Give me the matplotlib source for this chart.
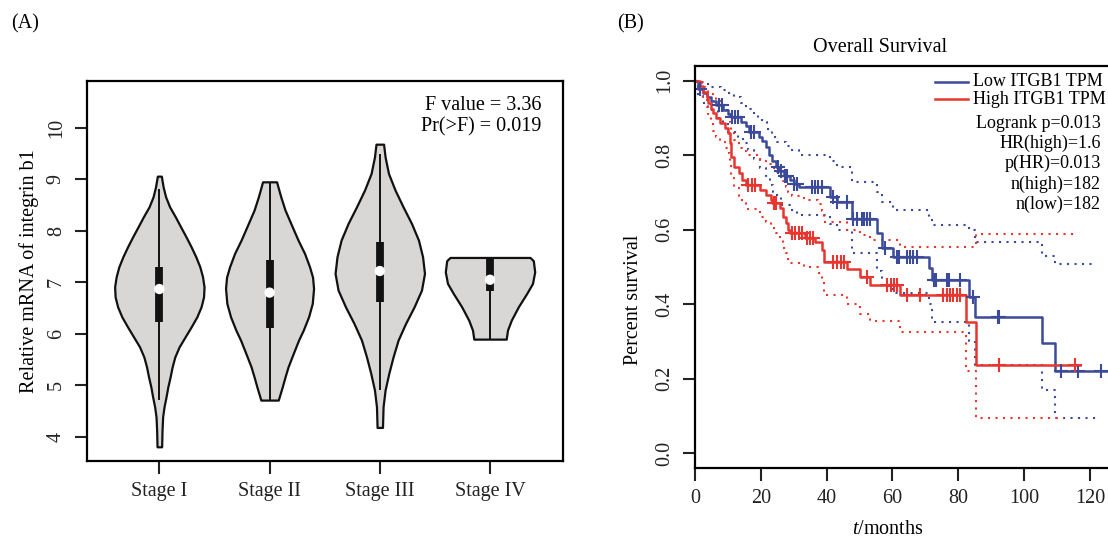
import numpy as np
import matplotlib
matplotlib.use("Agg")
import matplotlib.pyplot as plt

plt.rcParams['font.family'] = ['Liberation Serif', 'DejaVu Serif']
plt.rcParams['mathtext.fontset'] = 'custom'
plt.rcParams['mathtext.it'] = 'Liberation Serif:italic'
plt.rcParams['mathtext.rm'] = 'Liberation Serif'

# ---------------- Panel A data ----------------
stages = ["Stage I", "Stage II", "Stage III", "Stage IV"]
# violin outlines: (value, half-width in px)
v1_y = [3.806, 4.130, 4.388, 4.583, 4.777, 4.971, 5.165, 5.359, 5.553, 5.748, 5.942, 6.136, 6.330, 6.524, 6.718, 6.913, 7.107, 7.301, 7.495, 7.689, 7.883, 8.078, 8.272, 8.466, 8.660, 8.854, 9.062]
v1_w = [2.3, 2.7, 3.3, 4.7, 6.7, 8.5, 10.8, 12.8, 15.5, 19.8, 25.8, 31.8, 37.5, 41.7, 44.2, 44.7, 43.2, 40.5, 36.5, 31.8, 26.7, 21.3, 16.0, 10.3, 6.3, 3.8, 2.0]
v2_y = [4.713, 4.971, 5.165, 5.359, 5.619, 5.878, 6.072, 6.330, 6.590, 6.881, 7.100, 7.301, 7.561, 7.819, 8.110, 8.402, 8.661, 8.952]
v2_w = [8.7, 12.7, 15.5, 18.5, 23.7, 29.0, 33.7, 39.0, 42.7, 44.0, 43.0, 40.0, 35.0, 28.5, 22.0, 15.5, 11.2, 7.0]
v3_y = [4.182, 4.583, 4.907, 5.231, 5.553, 5.878, 6.202, 6.524, 6.849, 7.173, 7.495, 7.819, 8.144, 8.466, 8.790, 9.114, 9.437, 9.683]
v3_w = [2.7, 3.3, 5.3, 9.0, 13.3, 18.3, 25.8, 34.3, 41.7, 44.7, 42.8, 38.7, 31.7, 23.3, 15.3, 8.7, 5.3, 3.8]
v4_y = [5.897, 6.072, 6.266, 6.524, 6.784, 6.979, 7.204, 7.420, 7.483]
v4_w = [16.2, 17.5, 21.3, 28.3, 36.7, 42.5, 44.7, 43.3, 40.0]
box_lo = [6.23, 6.12, 6.61, 6.83]
box_hi = [7.30, 7.43, 7.79, 7.47]
whisk_lo = [4.71, 4.71, 4.91, 5.90]
whisk_hi = [8.82, 8.95, 9.50, 7.47]
medians = [6.87, 6.80, 7.22, 7.05]
yticks_a = [4, 5, 6, 7, 8, 9, 10]

# ---------------- Panel B data ----------------
low_t = [0, 1.0, 2.5, 3.5, 5.0, 6.5, 8.5, 10.0, 11.0, 14.0, 15.5, 16.5, 19.3, 20.3, 21.5, 22.5, 23.5, 24.5, 25.5, 27.0, 29.0, 30.0, 31.5, 41.0, 43.0, 47.6, 55.2, 56.7, 60.3, 71.2, 72.0, 83.3, 85.1, 105.4, 109.4]
low_s = [1.0, 0.978, 0.966, 0.955, 0.945, 0.934, 0.922, 0.911, 0.903, 0.890, 0.877, 0.863, 0.850, 0.838, 0.822, 0.800, 0.783, 0.768, 0.757, 0.745, 0.733, 0.722, 0.715, 0.689, 0.675, 0.628, 0.590, 0.550, 0.528, 0.496, 0.465, 0.420, 0.367, 0.295, 0.221]
low_end = 127
low_cens = [1.5, 7.2, 8.1, 11.2, 12.2, 13.2, 16.9, 18.0, 25.1, 26.1, 27.3, 28.0, 30.2, 31.0, 35.5, 36.5, 37.5, 38.5, 42.0, 43.0, 46.1, 48.1, 49.1, 50.6, 51.4, 52.4, 53.2, 57.6, 61.3, 62.1, 64.3, 65.3, 66.3, 67.4, 72.5, 73.3, 76.5, 77.3, 80.5, 84.4, 91.9, 92.5, 111.1, 116.3, 123.4]
low_up_t = [0, 2.0, 5.0, 8.0, 10.0, 12.0, 14.0, 15.5, 17.0, 19.0, 20.5, 22.0, 23.5, 25.0, 27.5, 29.0, 31.5, 41.0, 43.0, 47.6, 55.2, 56.7, 60.3, 71.2, 72.0, 83.3, 85.1, 105.4, 109.4]
low_up_s = [1.0, 0.990, 0.984, 0.975, 0.966, 0.955, 0.940, 0.925, 0.912, 0.900, 0.890, 0.870, 0.850, 0.836, 0.825, 0.814, 0.800, 0.785, 0.769, 0.729, 0.702, 0.675, 0.653, 0.630, 0.613, 0.600, 0.566, 0.530, 0.508]
low_up_end = 122
low_lo_t = [0, 1.0, 2.5, 4.0, 7.0, 8.5, 10.0, 13.0, 14.5, 16.0, 18.0, 19.8, 21.5, 22.8, 23.8, 24.8, 26.0, 29.0, 31.0, 41.0, 43.0, 47.6, 55.2, 56.7, 60.3, 71.2, 72.0, 83.3, 85.1, 105.4, 109.4]
low_lo_s = [1.0, 0.960, 0.940, 0.921, 0.900, 0.885, 0.863, 0.845, 0.832, 0.814, 0.790, 0.765, 0.745, 0.720, 0.700, 0.689, 0.666, 0.653, 0.640, 0.615, 0.600, 0.537, 0.490, 0.450, 0.430, 0.400, 0.353, 0.300, 0.237, 0.170, 0.096]
low_lo_end = 123

high_t = [0, 1.5, 2.5, 3.5, 4.0, 5.0, 5.5, 6.5, 7.5, 9.0, 10.0, 10.5, 11.0, 12.0, 13.5, 14.2, 15.5, 19.8, 21.5, 23.0, 23.5, 25.8, 26.8, 27.5, 28.2, 29.0, 33.5, 36.5, 38.5, 39.2, 46.1, 50.2, 53.2, 62.3, 82.4, 85.4]
high_s = [1.0, 0.985, 0.970, 0.957, 0.940, 0.925, 0.912, 0.900, 0.886, 0.872, 0.859, 0.832, 0.796, 0.769, 0.751, 0.733, 0.720, 0.707, 0.694, 0.680, 0.672, 0.657, 0.635, 0.617, 0.599, 0.590, 0.578, 0.568, 0.546, 0.512, 0.494, 0.474, 0.452, 0.425, 0.353, 0.237]
high_end = 117
high_cens = [16.2, 17.2, 18.3, 23.9, 24.6, 29.4, 30.4, 31.5, 32.5, 34.0, 35.0, 35.9, 42.0, 43.0, 44.5, 45.3, 52.2, 58.3, 59.5, 60.5, 61.3, 64.3, 68.4, 75.4, 76.5, 77.5, 78.5, 79.5, 80.5, 92.5, 115.5]
high_up_t = [0, 1.5, 3.0, 4.0, 5.5, 6.5, 8.0, 9.0, 10.0, 10.5, 11.0, 12.0, 13.5, 14.2, 15.5, 19.8, 21.5, 23.0, 24.5, 25.8, 26.8, 27.5, 28.2, 29.5, 33.0, 37.5, 38.5, 39.2, 46.1, 50.2, 53.2, 62.3, 82.4, 85.4]
high_up_s = [1.0, 0.995, 0.980, 0.965, 0.955, 0.945, 0.930, 0.920, 0.910, 0.890, 0.860, 0.840, 0.820, 0.810, 0.800, 0.785, 0.775, 0.765, 0.755, 0.745, 0.730, 0.715, 0.700, 0.690, 0.680, 0.670, 0.650, 0.620, 0.600, 0.585, 0.572, 0.553, 0.554, 0.588]
high_up_end = 115.5
high_lo_t = [0, 1.5, 2.5, 3.5, 4.0, 5.0, 5.5, 6.5, 7.5, 9.0, 10.0, 10.5, 11.0, 12.0, 13.5, 14.2, 15.5, 19.8, 21.5, 23.0, 24.5, 25.8, 26.8, 27.5, 28.2, 33.0, 37.5, 38.5, 39.2, 46.1, 50.2, 53.2, 62.3, 82.4, 85.4]
high_lo_s = [1.0, 0.970, 0.950, 0.930, 0.910, 0.885, 0.865, 0.850, 0.835, 0.820, 0.805, 0.775, 0.740, 0.711, 0.690, 0.671, 0.655, 0.635, 0.620, 0.605, 0.590, 0.575, 0.552, 0.537, 0.510, 0.500, 0.483, 0.460, 0.425, 0.400, 0.375, 0.356, 0.325, 0.220, 0.096]
high_lo_end = 112
xticks_b = [0, 20, 40, 60, 80, 100, 120]
yticks_b = [0.0, 0.2, 0.4, 0.6, 0.8, 1.0]

W, H = 1108, 539
fig = plt.figure(figsize=(W / 100, H / 100), dpi=100)

def fr(l, t, r, b):
    return [l / W, 1 - b / H, (r - l) / W, (b - t) / H]

FS = 14.5
grey = '#D9D6D6'
blue = '#3B4A9A'
red = '#E8352F'

# ---------------- Panel A ----------------
axA = fig.add_axes(fr(86.7, 81, 563.3, 461))
px_per_unit = 110.2
vp = []
for ys, ws, med in zip([v1_y, v2_y, v3_y, v4_y], [v1_w, v2_w, v3_w, v4_w], medians):
    vp.append(dict(coords=np.array(ys), vals=np.array(ws), mean=med, median=med,
                   min=min(ys), max=max(ys)))
positions = np.arange(1, len(stages) + 1)
widths = [2 * max(w) / px_per_unit for w in [v1_w, v2_w, v3_w, v4_w]]
parts = axA.violin(vp, positions=positions, widths=widths, showmeans=False,
                   showextrema=False, showmedians=False)
for pc in parts['bodies']:
    pc.set_facecolor(grey)
    pc.set_edgecolor('#111111')
    pc.set_linewidth(1.6)
    pc.set_alpha(1)
    pc.set_joinstyle('round')
axA.vlines(positions, whisk_lo, whisk_hi, color='#111111', lw=1.4, zorder=3)
axA.vlines(positions, box_lo, box_hi, color='#111111', lw=5.6, zorder=4, capstyle='butt')
axA.scatter(positions, medians, s=55, color='white', zorder=5, edgecolors='none')
axA.set_xlim(0.341, 4.665)
axA.set_ylim(3.53, 10.91)
axA.set_xticks(positions)
axA.set_xticklabels(stages, fontsize=FS)
axA.set_yticks(yticks_a)
axA.set_yticklabels([str(v) for v in yticks_a], fontsize=FS, rotation=90, va='center')
axA.set_ylabel("Relative mRNA of integrin b1", fontsize=FS, labelpad=6)
axA.tick_params(length=9, width=1.5, pad=6, colors='#222222')
for s in axA.spines.values():
    s.set_linewidth(1.6)
axA.text(0.955, 0.935, "F value = 3.36", transform=axA.transAxes, ha='right', va='center', fontsize=FS)
axA.text(0.955, 0.880, "Pr(>F) = 0.019", transform=axA.transAxes, ha='right', va='center', fontsize=FS)

# ---------------- Panel B ----------------
axB = fig.add_axes(fr(695, 65.7, 1108, 468.2))

def stepline(t, s, end, **kw):
    tt = list(t) + [end]
    ss = list(s) + [s[-1]]
    axB.step(tt, ss, where='post', **kw)

def stepval(t, s, x):
    return s[np.searchsorted(t, x, side='right') - 1]

dot = (0, (1, 2.6))
stepline(low_up_t, low_up_s, low_up_end, color=blue, lw=1.5, ls=dot)
stepline(low_lo_t, low_lo_s, low_lo_end, color=blue, lw=1.5, ls=dot)
stepline(high_up_t, high_up_s, high_up_end, color=red, lw=1.5, ls=dot)
stepline(high_lo_t, high_lo_s, high_lo_end, color=red, lw=1.5, ls=dot)
stepline(low_t, low_s, low_end, color=blue, lw=1.8)
stepline(high_t, high_s, high_end, color=red, lw=1.8)
axB.plot(low_cens, [stepval(low_t, low_s, c) for c in low_cens], ls='none', marker='+',
         ms=10, mew=1.5, color=blue)
axB.plot(high_cens, [stepval(high_t, high_s, c) for c in high_cens], ls='none', marker='+',
         ms=10, mew=1.5, color=red)

axB.set_xlim(0, 125.47)
axB.set_ylim(-0.04, 1.04)
axB.set_xticks(xticks_b)
axB.set_xticklabels([str(v) for v in xticks_b], fontsize=FS)
axB.set_yticks(yticks_b)
axB.set_yticklabels([f"{v:.1f}" for v in yticks_b], fontsize=FS, rotation=90, va='center')
axB.tick_params(length=9, width=1.5, pad=6, colors='#222222')
axB.spines['right'].set_visible(False)
for s in axB.spines.values():
    s.set_linewidth(1.6)

fig.text(880 / W, 1 - 48 / H, "Overall Survival", ha='center', va='center', fontsize=FS)
fig.text(888 / W, 1 - 529 / H, "$t$/months", ha='center', va='center', fontsize=FS)
fig.text(633 / W, 1 - 300 / H, "Percent survival", ha='center', va='center', rotation=90, fontsize=FS)
fig.text(25 / W, 1 - 24 / H, "(A)", ha='center', va='center', fontsize=FS)
fig.text(630 / W, 1 - 24 / H, "(B)", ha='center', va='center', fontsize=FS)

# legend & stats
leg_rows = [("Low ITGB1 TPM", blue, 82), ("High ITGB1 TPM", red, 99)]
for lab, col, yy in leg_rows:
    fig.add_artist(plt.Line2D([935 / W, 968 / W], [1 - yy / H, 1 - yy / H], color=col, lw=1.8))
    fig.text(973 / W, 1 - yy / H, lab, ha='left', va='center', fontsize=13)
stats = ["Logrank p=0.013", "HR(high)=1.6", "p(HR)=0.013", "n(high)=182", "n(low)=182"]
stats_y = [123, 143, 163, 184, 204]
for txt, yy in zip(stats, stats_y):
    fig.text(1101 / W, 1 - yy / H, txt, ha='right', va='center', fontsize=13)

fig.savefig("out.png", dpi=100, facecolor='white')
